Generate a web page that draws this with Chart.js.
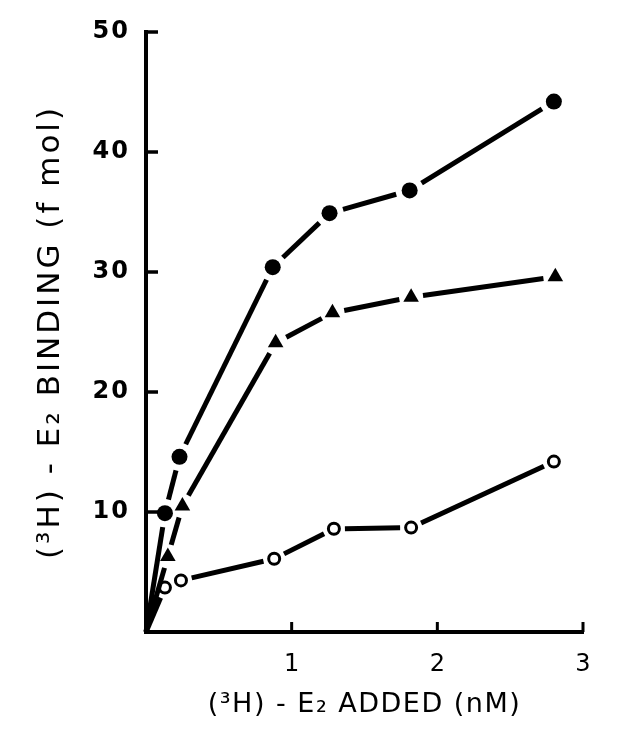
<!DOCTYPE html>
<html>
<head>
<meta charset="utf-8">
<script src="https://cdn.jsdelivr.net/npm/chart.js@4"></script>
<style>
  html, body { margin: 0; padding: 0; background: #fff; }
  #wrap { width: 618px; height: 738px; }
</style>
</head>
<body>
<div id="wrap"><canvas id="c" width="618" height="738"></canvas></div>
<script>
// Data
const filledX = [0, 0.13, 0.23, 0.87, 1.26, 1.81, 2.80];
const filledY = [0, 9.9, 14.6, 30.4, 34.9, 36.8, 44.2];
const triX    = [0, 0.15, 0.25, 0.89, 1.28, 1.82, 2.81];
const triY    = [0, 6.3, 10.5, 24.1, 26.6, 27.9, 29.6];
const openX   = [0, 0.13, 0.24, 0.88, 1.29, 1.82, 2.80];
const openY   = [0, 3.7, 4.3, 6.1, 8.6, 8.7, 14.2];

const xTicks = [1, 2, 3];
const yTicks = [10, 20, 30, 40, 50];
const xTitle = '(\u00B3H) - E\u2082 ADDED (nM)';
const yTitle = '(\u00B3H) - E\u2082 BINDING (f mol)';

function pts(xs, ys) { return xs.map((x, i) => ({ x: x, y: ys[i] })); }
// the origin point gets no marker
function markerRadius(r) { return ctx => (ctx.dataIndex === 0 ? 0 : r); }

// each line segment is broken where it reaches a marker:
// a per-segment dash pattern leaves a gap at both ends
function gapDash(gap) {
  function geom(ctx) {
    const p0 = ctx.p0, p1 = ctx.p1;
    const L = Math.hypot(p1.x - p0.x, p1.y - p0.y);
    const a = ctx.p0DataIndex === 0 ? 0 : gap;
    const b = gap;
    const D = Math.max(L - a - b, 0.01);
    return { D: D, a: a, b: b };
  }
  return {
    borderDash: ctx => { const g = geom(ctx); return [g.D, g.a + g.b + 1000]; },
    borderDashOffset: ctx => { const g = geom(ctx); return g.D + 1000 + g.b; }
  };
}

function series(xs, ys, style, r, fill, border, bw, gap) {
  return {
    data: pts(xs, ys), showLine: true, borderColor: '#000', borderWidth: 5,
    borderCapStyle: 'butt', borderJoinStyle: 'round',
    segment: gapDash(gap),
    pointStyle: style, pointRadius: markerRadius(r),
    pointBackgroundColor: fill, pointBorderColor: border, pointBorderWidth: bw
  };
}

const datasets = [
  series(filledX, filledY, 'circle', 8, '#000', '#000', 0, 14),
  series(triX, triY, 'triangle', 9, '#000', '#000', 0, 12),
  series(openX, openY, 'circle', 5.5, '#fff', '#000', 3, 11)
];

// per-scale letter spacing for titles/labels, and inward tick marks
const SPACING = { x: { title: '1.5px', labels: '0px' }, y: { title: '3px', labels: '2px' } };
const axisStyle = {
  id: 'axisStyle',
  afterLayout(chart) {
    ['x', 'y'].forEach(id => {
      const s = chart.scales[id];
      if (!s || s._spaced) return;
      s._spaced = true;
      const t = s.drawTitle, l = s.drawLabels;
      s.drawTitle = function () { const c = this.ctx; c.save(); c.letterSpacing = SPACING[id].title; t.apply(this, arguments); c.restore(); };
      s.drawLabels = function () { const c = this.ctx; c.save(); c.letterSpacing = SPACING[id].labels; l.apply(this, arguments); c.restore(); };
    });
  },
  afterDraw(chart) {
    const c = chart.ctx, xs = chart.scales.x, ys = chart.scales.y;
    const a = chart.chartArea;
    c.save();
    c.strokeStyle = '#000';
    c.lineWidth = 3.5;
    yTicks.forEach(v => {
      const py = ys.getPixelForValue(v);
      c.beginPath(); c.moveTo(a.left, py); c.lineTo(a.left + 12, py); c.stroke();
    });
    c.lineWidth = 3;
    xTicks.forEach(v => {
      const px = xs.getPixelForValue(v);
      c.beginPath(); c.moveTo(px, a.bottom); c.lineTo(px, a.bottom - 10); c.stroke();
    });
    c.restore();
  }
};

new Chart(document.getElementById('c'), {
  type: 'scatter',
  data: { datasets: datasets },
  plugins: [axisStyle],
  options: {
    responsive: false,
    animation: false,
    clip: false,
    layout: { padding: { top: 32, right: 35, left: 0, bottom: 0 } },
    plugins: { legend: { display: false }, tooltip: { enabled: false } },
    elements: { line: { tension: 0 } },
    scales: {
      x: {
        type: 'linear', min: 0, max: 3,
        afterBuildTicks: s => { s.ticks = xTicks.map(v => ({ value: v })); },
        afterFit: s => { s.height = 106; },
        grid: { display: true, drawOnChartArea: false, drawTicks: false },
        border: { display: true, color: '#000', width: 4 },
        ticks: { color: '#000', padding: 18, font: { family: 'DejaVu Sans', size: 24 } },
        title: { display: true, text: xTitle, color: '#000', padding: { top: 0, bottom: 17 },
                 font: { family: 'DejaVu Sans', size: 27 } }
      },
      y: {
        type: 'linear', min: 0, max: 50,
        afterBuildTicks: s => { s.ticks = yTicks.map(v => ({ value: v })); },
        afterFit: s => { s.width = 146; },
        grid: { display: true, drawOnChartArea: false, drawTicks: false },
        border: { display: true, color: '#000', width: 4 },
        ticks: { color: '#000', padding: 16, font: { family: 'DejaVu Sans', size: 24, weight: 'bold' } },
        title: { display: true, text: yTitle, color: '#000', padding: { top: 32, bottom: 0 },
                 font: { family: 'DejaVu Sans', size: 31 } }
      }
    }
  }
});
</script>
</body>
</html>
